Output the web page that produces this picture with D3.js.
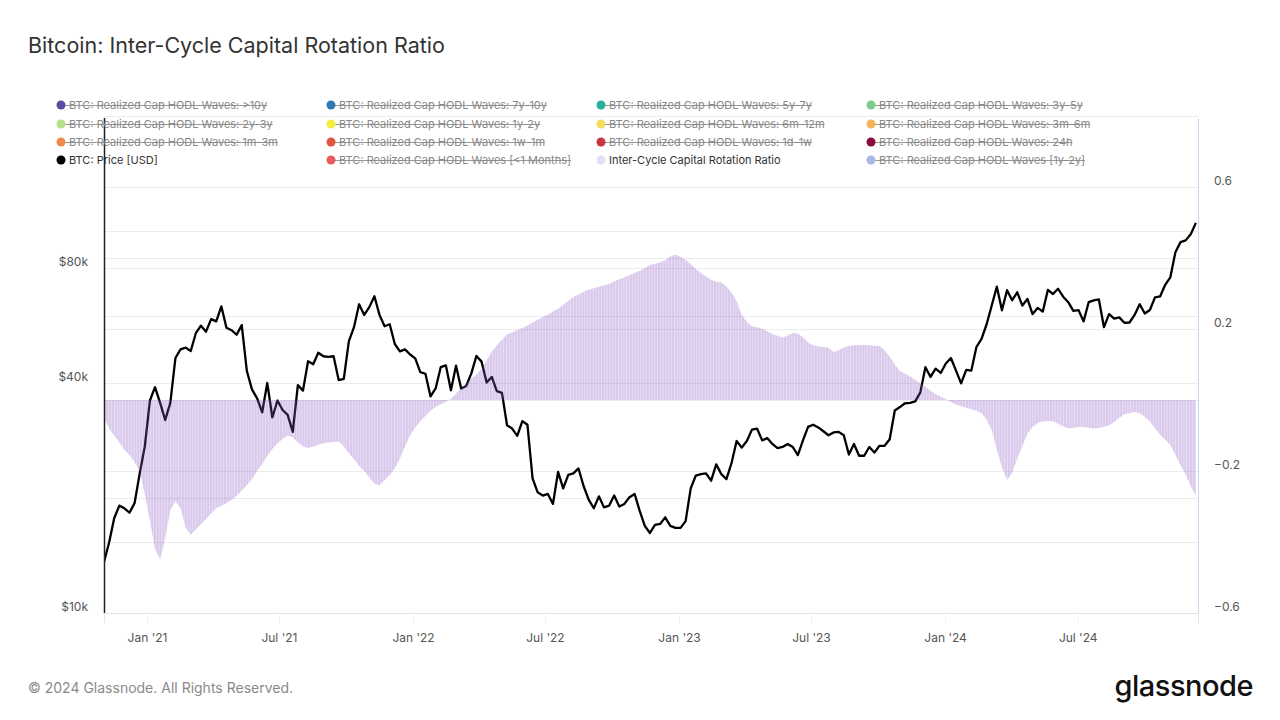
<!DOCTYPE html>
<html>
<head>
<meta charset="utf-8">
<script src="https://cdn.jsdelivr.net/npm/d3@7"></script>
<style>
  html, body { margin: 0; padding: 0; background: #fff; }
  svg { display: block; font-family: Inter, "Open Sans", "DejaVu Sans", sans-serif; }
</style>
</head>
<body>
<svg id="chart" width="1280" height="720"></svg>
<script>
// ---------------- DATA ----------------
const seriesStart = "2020-11-03";          // first weekly observation
const stepDays = 7;                        // weekly observations
const xDomainDates = ["2020-11-03", "2024-12-13"];

// BTC price [USD], weekly
const priceValues = [
  13600,15300,17700,19100,18800,18300,19400,23200,27300,36000,
  39000,35500,32000,35500,46500,49000,49500,48500,54000,56500,
  54500,58800,58000,63500,55800,55000,53500,56700,43000,38500,
  36500,33500,40000,32500,36000,34000,33000,29800,39500,38200,
  45600,44800,48000,47000,46800,47000,40700,41000,51500,56000,
  64300,60300,63200,67500,60300,56300,57000,50600,48400,49000,
  47500,46400,42700,42300,36900,38700,44000,44500,38300,44400,
  38700,39300,42400,47100,45500,40100,41500,38100,37700,31000,
  30400,29100,31800,31100,22500,20700,20300,20500,19300,23400,
  21200,23000,23200,23900,21500,19800,18800,20200,18900,19100,
  20300,19000,19300,20100,20500,18500,16900,16200,17000,17100,
  17800,16900,16700,16700,17400,21200,22900,23100,23200,22200,
  24500,23100,22400,24700,28200,27100,28200,30200,30400,28300,
  28700,27700,27000,27200,27700,27200,25900,28300,30700,31100,
  30600,29900,29200,29700,29800,29200,26000,27700,25800,25800,
  27200,26300,27400,27400,28500,33900,34600,35400,35500,35800,
  37800,44000,41500,43600,42500,45000,46500,43100,39900,43300,
  43100,49700,52200,57000,63800,71500,62000,70000,65900,69100,
  63800,66400,60600,62900,61500,70100,68400,70600,67300,65100,
  61800,62100,58000,65100,65800,66200,56000,60600,59000,59400,
  57500,57600,60300,64300,60800,62100,67000,67400,72300,75600,
  88000,93500,94500,98000,105000
];

// Inter-Cycle Capital Rotation Ratio, weekly
const ratioValues = [
  -0.05,-0.08,-0.10,-0.12,-0.14,-0.155,-0.175,-0.2,-0.265,-0.34,
  -0.42,-0.45,-0.39,-0.31,-0.285,-0.305,-0.36,-0.38,-0.365,-0.35,
  -0.335,-0.32,-0.305,-0.298,-0.29,-0.282,-0.27,-0.255,-0.24,-0.223,
  -0.2,-0.18,-0.158,-0.138,-0.122,-0.11,-0.1,-0.105,-0.12,-0.13,
  -0.135,-0.132,-0.126,-0.122,-0.12,-0.118,-0.117,-0.13,-0.15,-0.167,
  -0.185,-0.2,-0.218,-0.235,-0.24,-0.226,-0.212,-0.192,-0.165,-0.13,
  -0.1,-0.078,-0.06,-0.045,-0.03,-0.02,-0.012,-0.005,0.003,0.018,
  0.034,0.047,0.06,0.072,0.087,0.112,0.136,0.154,0.17,0.185,
  0.19,0.197,0.203,0.21,0.218,0.226,0.234,0.241,0.249,0.257,
  0.268,0.279,0.29,0.297,0.305,0.311,0.315,0.319,0.323,0.327,
  0.334,0.34,0.346,0.352,0.358,0.364,0.372,0.38,0.384,0.388,
  0.394,0.404,0.41,0.403,0.395,0.383,0.369,0.358,0.348,0.339,
  0.333,0.331,0.32,0.302,0.278,0.24,0.22,0.208,0.205,0.201,
  0.194,0.186,0.181,0.176,0.182,0.189,0.187,0.177,0.162,0.154,
  0.151,0.149,0.147,0.135,0.14,0.148,0.152,0.154,0.155,0.155,
  0.154,0.153,0.152,0.14,0.122,0.1,0.082,0.074,0.067,0.057,
  0.047,0.037,0.026,0.017,0.009,0.002,-0.006,-0.013,-0.017,-0.022,
  -0.026,-0.03,-0.037,-0.055,-0.085,-0.14,-0.19,-0.225,-0.205,-0.165,
  -0.13,-0.095,-0.076,-0.065,-0.06,-0.06,-0.06,-0.067,-0.074,-0.08,
  -0.078,-0.076,-0.076,-0.078,-0.08,-0.079,-0.075,-0.071,-0.062,-0.05,
  -0.04,-0.037,-0.034,-0.037,-0.047,-0.06,-0.08,-0.098,-0.112,-0.127,
  -0.155,-0.184,-0.21,-0.242,-0.27
];

const xTickDates = ["2021-01-01","2021-07-01","2022-01-01","2022-07-01","2023-01-01","2023-07-01","2024-01-01","2024-07-01"];
const xTickLabels = ["Jan '21","Jul '21","Jan '22","Jul '22","Jan '23","Jul '23","Jan '24","Jul '24"];
const priceDomain = [10000, 200000];
const priceGridValues = [10000, 20000, 40000, 60000, 80000, 100000];
const priceTickValues = [10000, 40000, 80000];
const priceTickLabels = ["$10k", "$40k", "$80k"];
const ratioDomain = [-0.6, 0.8];
const ratioGridValues = [-0.6, -0.4, -0.2, 0, 0.2, 0.4, 0.6, 0.8];
const ratioTickValues = [-0.6, -0.2, 0.2, 0.6];

const legendNames = [
  "BTC: Realized Cap HODL Waves: >10y", "BTC: Realized Cap HODL Waves: 7y-10y", "BTC: Realized Cap HODL Waves: 5y-7y", "BTC: Realized Cap HODL Waves: 3y-5y",
  "BTC: Realized Cap HODL Waves: 2y-3y", "BTC: Realized Cap HODL Waves: 1y-2y", "BTC: Realized Cap HODL Waves: 6m-12m", "BTC: Realized Cap HODL Waves: 3m-6m",
  "BTC: Realized Cap HODL Waves: 1m-3m", "BTC: Realized Cap HODL Waves: 1w-1m", "BTC: Realized Cap HODL Waves: 1d-1w", "BTC: Realized Cap HODL Waves: 24h",
  "BTC: Price [USD]", "BTC: Realized Cap HODL Waves [<1 Months]", "Inter-Cycle Capital Rotation Ratio", "BTC: Realized Cap HODL Waves [1y-2y]"
];
const legendColors = [
  "#5a4c9f", "#2e78b3", "#29b19a", "#7fcb90",
  "#b6e08c", "#f1ee3c", "#f6da5f", "#f4b35c",
  "#ef8a4c", "#e0553f", "#c8343f", "#870b3d",
  "#000000", "#ec5b5b", "#e8dcf4", "#a9b8e5"
];
const legendActive = [false,false,false,false,false,false,false,false,false,false,false,false,true,false,true,false];

// ---------------- LAYOUT ----------------
const svg = d3.select("#chart");
const plot = { left: 104, right: 1198, top: 116, bottom: 613 };

const parse = d3.timeParse("%Y-%m-%d");
const start = parse(seriesStart);
const dates = priceValues.map((_, i) => d3.timeDay.offset(start, i * stepDays));
const priceData = priceValues.map((v, i) => ({ date: dates[i], v }));
const ratioData = ratioValues.map((v, i) => ({ date: dates[i], v }));

const x = d3.scaleTime().domain(xDomainDates.map(parse)).range([plot.left, plot.right]);
const yP = d3.scaleLog().domain(priceDomain).range([plot.bottom, plot.top]);
const yR = d3.scaleLinear().domain(ratioDomain).range([plot.bottom, plot.top]);

// Title
svg.append("text").attr("x", 28).attr("y", 53)
  .attr("font-size", 21.5).attr("fill", "#333").text("Bitcoin: Inter-Cycle Capital Rotation Ratio");

// Gridlines
const grid = svg.append("g");
grid.selectAll("line.gr").data(ratioGridValues).join("line")
  .attr("x1", plot.left).attr("x2", plot.right)
  .attr("y1", d => Math.round(yR(d)) + 0.5).attr("y2", d => Math.round(yR(d)) + 0.5)
  .attr("stroke", "#ececec").attr("stroke-width", 1);
grid.selectAll("line.gp").data(priceGridValues).join("line")
  .attr("x1", plot.left).attr("x2", plot.right)
  .attr("y1", d => Math.round(yP(d)) + 0.5).attr("y2", d => Math.round(yP(d)) + 0.5)
  .attr("stroke", "#ececec").attr("stroke-width", 1);

// X axis (bottom)
const xAxis = d3.axisBottom(x)
  .tickValues(xTickDates.map(parse))
  .tickFormat((d, i) => xTickLabels[i])
  .tickSize(10).tickPadding(10);
const gx = svg.append("g").attr("transform", `translate(0,${plot.bottom})`).call(xAxis);
gx.select(".domain").attr("stroke", "#e3e3e3");
gx.selectAll(".tick line").attr("stroke", "#efefef");
gx.selectAll(".tick text").attr("font-size", 12).attr("fill", "#555")
  .attr("font-family", "Inter, 'Open Sans', sans-serif");

// Left axis (price, log)
const yLeft = d3.axisLeft(yP).tickValues(priceTickValues)
  .tickFormat((d, i) => priceTickLabels[i]).tickSize(0).tickPadding(16);
const gl = svg.append("g").attr("transform", `translate(${plot.left},0)`).call(yLeft);
gl.select(".domain").remove();
gl.selectAll(".tick text").attr("font-size", 12).attr("fill", "#555").attr("dy", "-0.2em")
  .attr("font-family", "Inter, 'Open Sans', sans-serif");

// Right axis (ratio)
const yRight = d3.axisRight(yR).tickValues(ratioTickValues)
  .tickFormat(d3.format(".1f")).tickSize(0).tickPadding(16);
const gr = svg.append("g").attr("transform", `translate(${plot.right},0)`).call(yRight);
gr.select(".domain").remove();
gr.selectAll(".tick text").attr("font-size", 12).attr("fill", "#555").attr("dy", "-0.2em")
  .attr("font-family", "Inter, 'Open Sans', sans-serif");

// Clip
svg.append("defs").append("clipPath").attr("id", "clip").append("rect")
  .attr("x", plot.left).attr("y", plot.top)
  .attr("width", plot.right - plot.left).attr("height", plot.bottom - plot.top);

// Stripe pattern for the ratio bars
const pat = svg.select("defs").append("pattern").attr("id", "stripes")
  .attr("patternUnits", "userSpaceOnUse").attr("width", 2.8).attr("height", 10);
pat.append("rect").attr("x", 0).attr("y", 0).attr("width", 1.8).attr("height", 10)
  .attr("fill", "rgb(140,88,196)").attr("fill-opacity", 0.33);
pat.append("rect").attr("x", 1.8).attr("y", 0).attr("width", 1.0).attr("height", 10)
  .attr("fill", "rgb(140,88,196)").attr("fill-opacity", 0.2);

const content = svg.append("g").attr("clip-path", "url(#clip)");

// Price line
const line = d3.line().x(d => x(d.date)).y(d => yP(d.v)).curve(d3.curveLinear);
content.append("path").datum(priceData).attr("d", line)
  .attr("fill", "none").attr("stroke", "#000").attr("stroke-width", 2.3)
  .attr("stroke-linejoin", "round");

// Ratio bars (area from zero, striped)
const area = d3.area().x(d => x(d.date)).y0(yR(0)).y1(d => yR(d.v)).curve(d3.curveLinear);
content.append("path").datum(ratioData).attr("d", area).attr("fill", "url(#stripes)");

// Left axis line (black) and right axis line (light blue)
svg.append("line").attr("x1", plot.left + 0.5).attr("x2", plot.left + 0.5)
  .attr("y1", plot.top + 2).attr("y2", plot.bottom).attr("stroke", "#222").attr("stroke-width", 1.5);
svg.append("line").attr("x1", plot.right + 0.5).attr("x2", plot.right + 0.5)
  .attr("y1", plot.top + 2).attr("y2", plot.bottom).attr("stroke", "#c9d6ee").attr("stroke-width", 1);

// Legend
const legend = svg.append("g").attr("font-size", 11);
const colX = [61, 331, 601, 871];
const rowY = [105, 124, 142, 160];
legendNames.forEach((name, i) => {
  const cx = colX[i % 4], cy = rowY[Math.floor(i / 4)];
  const g = legend.append("g");
  const t = g.append("text").attr("x", cx + 8).attr("y", cy + 4)
    .attr("fill", legendActive[i] ? "#333" : "#888").text(name);
  if (!legendActive[i]) {
    const w = t.node().getComputedTextLength();
    g.insert("line", "text").attr("x1", cx - 4).attr("x2", cx + 8 + w)
      .attr("y1", cy + 0.5).attr("y2", cy + 0.5).attr("stroke", "#999").attr("stroke-width", 1);
  }
  g.append("circle").attr("cx", cx).attr("cy", cy).attr("r", 4.5).attr("fill", legendColors[i]);
});

// Footer
svg.append("text").attr("x", 28).attr("y", 693).attr("font-size", 14).attr("fill", "#8a8a8a")
  .text("© 2024 Glassnode. All Rights Reserved.");
svg.append("text").attr("x", 1253).attr("y", 696).attr("text-anchor", "end")
  .attr("font-size", 29).attr("font-weight", 500).attr("fill", "#111").attr("letter-spacing", "-0.5")
  .text("glassnode");
</script>
</body>
</html>
